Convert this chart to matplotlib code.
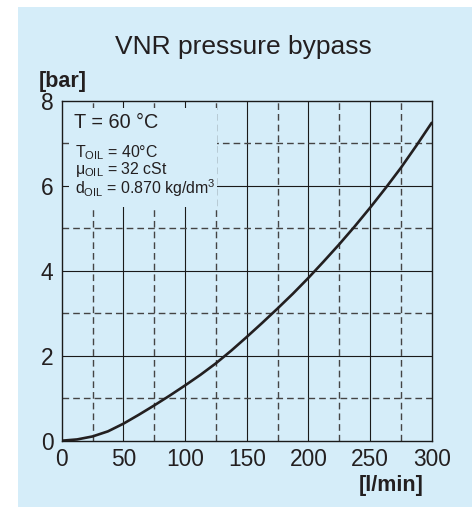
import matplotlib
matplotlib.use('Agg')
import matplotlib.pyplot as plt
from matplotlib.patches import Rectangle

plt.rcParams['font.family'] = ['Liberation Sans', 'DejaVu Sans']
plt.rcParams['mathtext.fontset'] = 'custom'
plt.rcParams['mathtext.rm'] = 'Liberation Sans'
plt.rcParams['mathtext.it'] = 'Liberation Sans:italic'
plt.rcParams['mathtext.bf'] = 'Liberation Sans:bold'

# flow [l/min] vs pressure drop [bar]
flow = [0, 12.5, 25, 37.5, 50, 62.5, 75, 87.5, 100, 112.5, 125, 137.5,
        150, 162.5, 175, 187.5, 200, 212.5, 225, 237.5, 250, 262.5, 275, 287.5, 300]
pressure = [0, 0.03, 0.10, 0.22, 0.40, 0.61, 0.83, 1.06, 1.30, 1.55, 1.82, 2.12,
            2.44, 2.77, 3.11, 3.46, 3.83, 4.22, 4.62, 5.04, 5.48, 5.94, 6.42, 6.94, 7.48]

x_major = [50, 100, 150, 200, 250]
x_minor = [25, 75, 125, 175, 225, 275]
y_major = [2, 4, 6]
y_minor = [1, 3, 5, 7]
x_ticks = [0, 50, 100, 150, 200, 250, 300]
y_ticks = [0, 2, 4, 6, 8]

bg = '#d5edf9'
ink = '#231f20'

fig = plt.figure(figsize=(4.77, 5.07), dpi=100)
fig.patch.set_facecolor('white')
# light blue panel behind everything
panel = Rectangle((18 / 477, 0), (472 - 18) / 477, 1 - 7 / 507,
                  transform=fig.transFigure, facecolor=bg,
                  edgecolor='none', zorder=-10)
fig.add_artist(panel)

ax = fig.add_axes([61.7 / 477, 1 - 440.7 / 507, 370 / 477, 340 / 507])
ax.set_zorder(1)
ax.set_facecolor(bg)
ax.set_xlim(0, 300)
ax.set_ylim(0, 8)

# grid
for v in x_major:
    ax.axvline(v, color='#1a1a1a', lw=0.8, zorder=1)
for v in y_major:
    ax.axhline(v, color='#1a1a1a', lw=0.8, zorder=1)
for v in x_minor:
    ax.axvline(v, color='#444444', lw=1.0, ls=(0, (4.8, 2.9)), zorder=1)
for v in y_minor:
    ax.axhline(v, color='#444444', lw=1.0, ls=(0, (4.8, 2.9)), zorder=1)

# box hiding the grid behind the notes
ax.add_patch(Rectangle((6, 5.5), 120, 2.32, facecolor=bg, edgecolor='none', zorder=2))

ax.plot(flow, pressure, color=ink, lw=1.9, solid_capstyle='round',
        solid_joinstyle='round', zorder=3)

ax.text(10.2, 7.35, 'T = 60 °C', fontsize=14.3, color=ink, zorder=4)
ax.text(10.8, 6.67, r'T$_{\mathrm{OIL}}$ = 40°C', fontsize=11.4, color=ink, zorder=4)
ax.text(10.8, 6.27, r'μ$_{\mathrm{OIL}}$ = 32 cSt', fontsize=11.4, color=ink, zorder=4)
ax.text(10.8, 5.80, r'd$_{\mathrm{OIL}}$ = 0.870 kg/dm$^{3}$', fontsize=11.4, color=ink, zorder=4)

ax.set_xticks(x_ticks)
ax.set_yticks(y_ticks)
ax.tick_params(length=0, labelsize=16.4, labelcolor=ink)
ax.tick_params(axis='x', pad=5)
ax.tick_params(axis='y', pad=6)
for s in ax.spines.values():
    s.set_color('#1a1a1a')
    s.set_linewidth(1.0)
    s.set_zorder(5)

fig.text(243.4 / 477, 1 - 54 / 507, 'VNR pressure bypass', fontsize=19,
         color=ink, ha='center', va='baseline')
fig.text(38.3 / 477, 1 - 87.3 / 507, '[bar]', fontsize=15.5, fontweight='bold',
         color=ink, ha='left', va='baseline')
fig.text(423.3 / 477, 1 - 491 / 507, '[l/min]', fontsize=15.5, fontweight='bold',
         color=ink, ha='right', va='baseline')

fig.savefig('out.png', dpi=100, facecolor=fig.get_facecolor())
